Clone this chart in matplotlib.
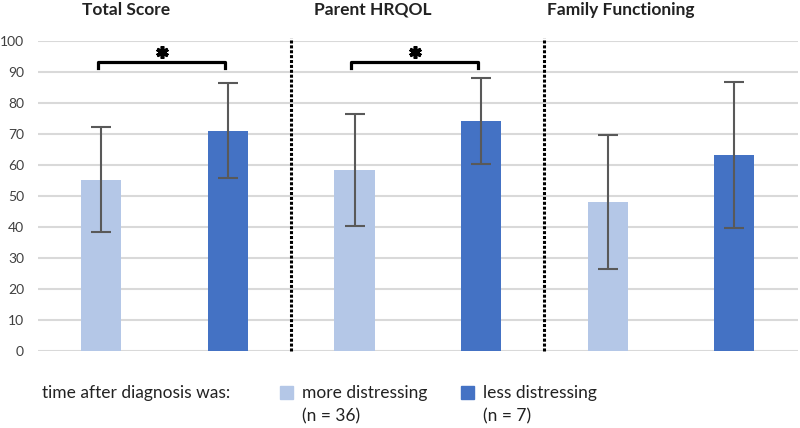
import matplotlib
matplotlib.use("Agg")
import matplotlib.pyplot as plt
import numpy as np

plt.rcParams['font.family'] = ['Lato', 'DejaVu Sans']

categories = ["Total Score", "Parent HRQOL", "Family Functioning"]
more_mean = [55.3, 58.5, 48.1]
more_sd = [17.0, 18.1, 21.6]
less_mean = [71.0, 74.2, 63.3]
less_sd = [15.3, 13.8, 23.5]
series_labels = ["more distressing\n(n = 36)", "less distressing\n(n = 7)"]
legend_title = "time after diagnosis was:"
significant = [True, True, False]
yticks = list(range(0, 101, 10))

light = "#b4c7e7"
dark = "#4472c4"

fig = plt.figure(figsize=(8, 4.28), dpi=100)
ax = fig.add_axes([0.0475, 0.1799, 0.9495, 0.7243])

x = np.arange(len(categories))
off = 0.25
w = 0.158
ax.bar(x - off, more_mean, width=w, color=light, zorder=2)
ax.bar(x + off, less_mean, width=w, color=dark, zorder=2)
ax.errorbar(x - off, more_mean, yerr=more_sd, fmt='none', ecolor="#595959",
            elinewidth=1.5, capsize=7, capthick=1.5, zorder=3)
ax.errorbar(x + off, less_mean, yerr=less_sd, fmt='none', ecolor="#595959",
            elinewidth=1.5, capsize=7, capthick=1.5, zorder=3)

ax.set_xlim(-0.5, len(categories) - 0.5)
ax.set_ylim(0, 100)
ax.set_yticks(yticks)
ax.yaxis.grid(True, color="#d9d9d9", linewidth=1.5, zorder=0)
ax.set_axisbelow(True)
ax.set_xticks([])
for s in ax.spines.values():
    s.set_visible(False)
ax.tick_params(axis='y', length=0, labelsize=10, labelcolor="#404040", pad=10)

# separators
for sep in x[:-1] + 0.5:
    ax.plot([sep, sep], [0, 101], color="black", linestyle=(0, (1, 0.6)),
            linewidth=2.2, clip_on=False, zorder=4)

# titles (placed left of group centre as in the original)
title_shift = [-0.154, -0.178, -0.2]
for xi, cat, sh in zip(x, categories, title_shift):
    ax.text(xi + sh, 1.084, cat, transform=ax.get_xaxis_transform(),
            ha='center', va='baseline', fontsize=12.5, fontweight='bold', color="#222222")

# significance brackets
for xi, sig in zip(x, significant):
    if sig:
        x0, x1 = xi - off - 0.012, xi + off - 0.012
        ax.plot([x0, x0, x1, x1], [91.2, 93.3, 93.3, 91.2], color="black",
                linewidth=2.3, clip_on=False, zorder=4)
        ax.plot([(x0 + x1) / 2], [96.4], marker=(6, 2, 0), markersize=9,
                markeredgewidth=2.6, color="black", clip_on=False, zorder=4)

# legend
fig.text(42 / 800, 1 - 393 / 428, legend_title, fontsize=12.5,
         va='center', ha='left', color="#222222")
for xs, col, lab in [(280, light, series_labels[0]), (461, dark, series_labels[1])]:
    fig.patches.append(plt.Rectangle((xs / 800, 1 - 399 / 428), 13 / 800, 13 / 428,
                                     transform=fig.transFigure, color=col, figure=fig))
    l1, l2 = lab.split("\n")
    fig.text((xs + 22) / 800, 1 - 393 / 428, l1, fontsize=12.5, va='center',
             ha='left', color="#222222")
    fig.text((xs + 22) / 800, 1 - 416 / 428, l2, fontsize=12.5, va='center',
             ha='left', color="#222222")

fig.savefig("out.png", dpi=100)
